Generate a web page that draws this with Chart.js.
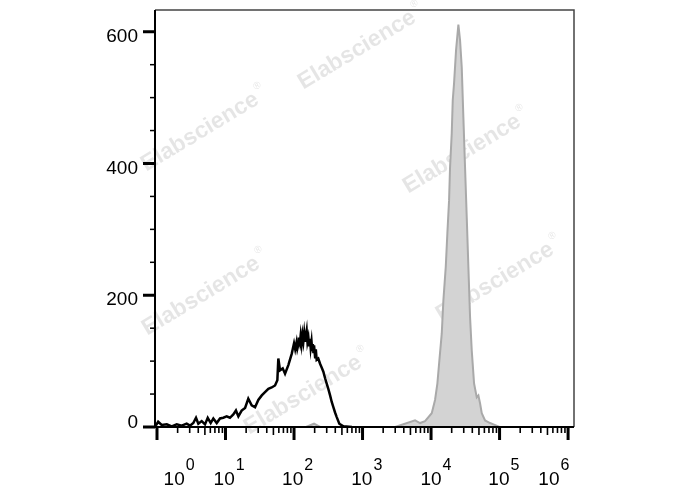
<!DOCTYPE html>
<html>
<head>
<meta charset="utf-8">
<script src="https://cdn.jsdelivr.net/npm/chart.js@4.4.0/dist/chart.umd.min.js"></script>
<style>
  html, body { margin: 0; padding: 0; background: #fff; }
  #wrap { width: 688px; height: 490px; position: relative; }
</style>
</head>
<body>
<div id="wrap"><canvas id="c"></canvas></div>
<script>
/* 流式直方图: 空白对照(黑线) vs 染色样本(灰色填充), 横轴对数 */

// 黑线 (对照) 荧光强度与计数
var blackX = [0.96, 1.04, 1.17, 1.39, 1.64, 1.94, 2.29, 2.71, 3.03, 3.39, 3.71, 4.01, 4.49, 5.02, 5.50,
  6.08, 6.64, 7.44, 8.31, 9.29, 10.4, 11.6, 13.0, 14.2, 15.4, 17.2, 19.3, 21.5, 24.1, 27.0,
  30.1, 33.8, 37.7, 42.2, 47.2, 52.8, 57.1, 59.0, 62.5, 68.4, 73.9, 82.6, 92.5, 100, 104,
  109, 112, 115, 118, 122, 125, 129, 133, 137, 141, 145, 149, 153, 157, 162, 166, 171, 175, 180, 184, 188, 192, 196, 203, 208, 214, 226,
  240, 254, 268, 284, 300, 318, 336, 355, 375, 397, 420, 458, 525, 700];
var blackY = [2, 8, 3, 4, 1, 4, 2, 5, 2, 6, 14, 5, 9, 4, 14,
  6, 13, 6, 13, 14, 16, 14, 19, 25, 16, 25, 29, 43, 33, 30,
  41, 48, 53, 58, 60, 63, 71, 104, 86, 89, 81, 94, 111, 127, 118,
  129, 119, 124, 136, 128, 139, 126, 140, 130, 143, 131, 138, 146, 129, 136, 124, 134, 120, 130, 117, 126, 112, 124, 106, 118, 102, 104,
  96, 90, 84, 74, 66, 57, 48, 38, 30, 22, 15, 5, 1, 0];

// 灰色 (样本) 荧光强度与计数
var grayX = [0.96, 150, 196, 240, 3000, 5840, 6910, 8170, 10230, 11430, 12360, 13220, 14330, 15130,
  16390, 17300, 18320, 18930, 20040, 20730, 21670, 23170, 25050, 26510, 28050, 29630,
  31350, 33190, 35060, 37090, 39270, 42450, 46450, 49090, 51890, 54940, 61400, 72640,
  81300, 100000, 1200000];
var grayY = [0, 0, 5, 0, 0, 10, 6, 9, 21, 41, 66, 101, 142, 192,
  243, 294, 344, 394, 446, 496, 522, 572, 611, 587, 546, 470,
  394, 318, 243, 167, 116, 66, 45, 48, 36, 21, 10, 6,
  4, 0, 0];

// 坐标轴刻度
var yMajorTicks = [0, 200, 400, 600];
var yMinorStep = 50;
var xDecades = [0, 1, 2, 3, 4, 5, 6];
// 10^n 标签中心所在位置 (以 decade 计, 原图 10^0 / 10^6 向内偏移)
var xLabelAt = [0.25, 0.98, 1.98, 2.99, 4.0, 4.99, 5.72];

function toPoints(xs, ys) {
  return xs.map(function(x, i) { return { x: x, y: ys[i] }; });
}

var FONT = "'Liberation Sans', Arial, sans-serif";

var flowAxes = {
  id: 'flowAxes',
  beforeDatasetsDraw(chart) {
    // 水印
    var ctx = chart.ctx;
    var marks = [[357, 50], [200, 132], [462, 154], [201, 296], [495, 282], [303, 395]];
    ctx.save();
    ctx.fillStyle = 'rgba(0,0,0,0.1)';
    marks.forEach(function(m) {
      ctx.save();
      ctx.translate(m[0], m[1]);
      ctx.rotate(-31 * Math.PI / 180);
      ctx.font = 'bold 23px ' + FONT;
      ctx.textAlign = 'center';
      ctx.textBaseline = 'middle';
      ctx.fillText('Elabscience', 0, 0);
      ctx.font = '10px ' + FONT;
      ctx.textAlign = 'left';
      ctx.fillText('\u00AE', 69, -10);
      ctx.restore();
    });
    ctx.restore();
  },
  afterDatasetsDraw(chart) {
    var ctx = chart.ctx, a = chart.chartArea;
    var xs = chart.scales.x, ys = chart.scales.y;
    ctx.save();
    // 上、右边框
    ctx.strokeStyle = '#444';
    ctx.lineWidth = 1.5;
    ctx.beginPath();
    ctx.moveTo(a.left, a.top);
    ctx.lineTo(a.right, a.top);
    ctx.lineTo(a.right, a.bottom);
    ctx.stroke();
    // 坐标轴线
    ctx.strokeStyle = '#000';
    ctx.lineWidth = 2;
    ctx.beginPath();
    ctx.moveTo(a.left, a.top);
    ctx.lineTo(a.left, a.bottom);
    ctx.lineTo(a.right, a.bottom);
    ctx.stroke();

    // Y 刻度
    var yMax = ys.max;
    for (var v = 0; v <= yMax; v += yMinorStep) {
      var py = ys.getPixelForValue(v);
      var major = yMajorTicks.indexOf(v) >= 0;
      ctx.lineWidth = major ? 3 : 1.5;
      ctx.beginPath();
      ctx.moveTo(a.left, py);
      ctx.lineTo(a.left - (major ? 12 : 5), py);
      ctx.stroke();
    }
    ctx.fillStyle = '#000';
    ctx.font = '19px ' + FONT;
    ctx.textAlign = 'right';
    ctx.textBaseline = 'middle';
    yMajorTicks.forEach(function(t) {
      var py = ys.getPixelForValue(t);
      ctx.fillText(String(t), a.left - 17, py + (t === 0 ? -4 : 5));
    });

    // X 刻度 (对数, 主刻度 10^n, 次刻度 k*10^n)
    xDecades.forEach(function(d) {
      var px = xs.getPixelForValue(Math.pow(10, d));
      ctx.lineWidth = 3;
      ctx.beginPath();
      ctx.moveTo(px, a.bottom);
      ctx.lineTo(px, a.bottom + 13);
      ctx.stroke();
      if (d === 6) return;
      for (var k = 2; k <= 9; k++) {
        var mx = xs.getPixelForValue(k * Math.pow(10, d));
        ctx.lineWidth = 1.6;
        ctx.beginPath();
        ctx.moveTo(mx, a.bottom);
        ctx.lineTo(mx, a.bottom + (k === 5 ? 8 : 6));
        ctx.stroke();
      }
    });
    // 10^n 标签
    xDecades.forEach(function(d, i) {
      var cx = xs.getPixelForValue(Math.pow(10, xLabelAt[i]));
      ctx.font = '19px ' + FONT;
      ctx.textAlign = 'center';
      ctx.textBaseline = 'alphabetic';
      ctx.fillText('10', cx, 485);
      var w = ctx.measureText('10').width;
      ctx.font = '16px ' + FONT;
      ctx.textAlign = 'left';
      ctx.fillText(String(d), cx + w / 2 + 1, 470);
    });
    ctx.restore();
  }
};

new Chart(document.getElementById('c'), {
  type: 'line',
  data: {
    datasets: [
      {
        label: 'sample',
        data: toPoints(grayX, grayY),
        borderColor: '#a9a9a9',
        backgroundColor: '#d3d3d3',
        borderWidth: 2,
        fill: 'origin',
        pointRadius: 0,
        tension: 0
      },
      {
        label: 'control',
        data: toPoints(blackX, blackY),
        borderColor: '#000',
        borderWidth: 2.5,
        fill: false,
        pointRadius: 0,
        tension: 0
      }
    ]
  },
  options: {
    responsive: true,
    maintainAspectRatio: false,
    animation: false,
    layout: { padding: { left: 155, right: 114, top: 10, bottom: 63 } },
    plugins: { legend: { display: false }, tooltip: { enabled: false } },
    scales: {
      x: { type: 'logarithmic', min: 0.935, max: 1220000, display: false },
      y: { type: 'linear', min: 0, max: 633, display: false }
    }
  },
  plugins: [flowAxes]
});
</script>
</body>
</html>
